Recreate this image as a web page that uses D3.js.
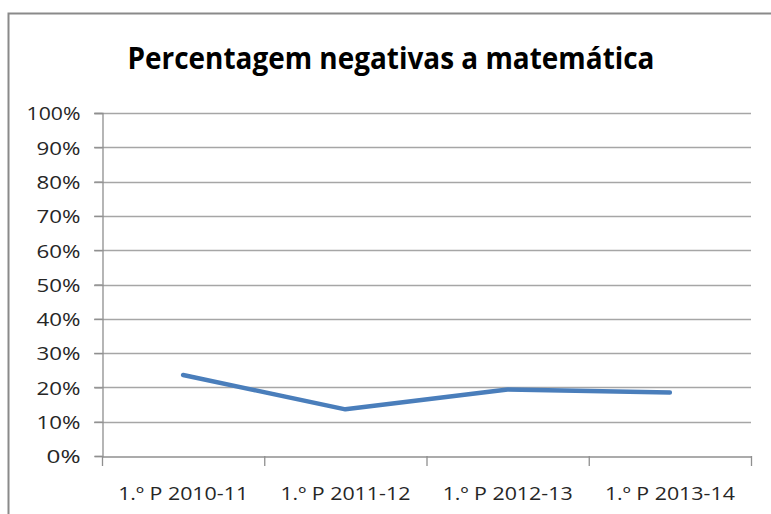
<!DOCTYPE html>
<html><head><meta charset="utf-8">
<script src="https://cdn.jsdelivr.net/npm/d3@7"></script>
<style>
body{margin:0;background:#fff;}
</style></head>
<body>
<svg id="c" width="771" height="514"></svg>
<script>
const categories = ["1.º P 2010-11","1.º P 2011-12","1.º P 2012-13","1.º P 2013-14"];
const values = [0.236, 0.136, 0.194, 0.185];
const yTicks = [0,0.1,0.2,0.3,0.4,0.5,0.6,0.7,0.8,0.9,1.0];
const title = "Percentagem negativas a matemática";

const svg = d3.select("#c");
const W = 771, H = 514;

svg.append("rect").attr("x",8.5).attr("y",13.5).attr("width",W+10).attr("height",H+10)
  .attr("fill","#fff").attr("stroke","#8a8a8a").attr("stroke-width",2);

const x = d3.scaleBand().domain(categories).range([102,751]);
const y = d3.scaleLinear().domain([0,1]).range([456,113]);

// gridlines
svg.append("g").selectAll("line").data(yTicks.filter(d=>d>0)).join("line")
  .attr("x1",94).attr("x2",751).attr("y1",d=>Math.round(y(d))+0.5).attr("y2",d=>Math.round(y(d))+0.5)
  .attr("stroke","#a6a6a6").attr("stroke-width",1.3);

// y axis
const ya = svg.append("g").attr("transform","translate(102.5,0)")
  .call(d3.axisLeft(y).tickValues(yTicks).tickFormat(d3.format(".0%")).tickSize(8).tickPadding(14));
ya.select(".domain").attr("stroke","#8f8f8f").attr("stroke-width",1.3);
ya.selectAll(".tick line").attr("stroke","#8f8f8f").attr("stroke-width",1.3);
ya.selectAll(".tick text").style("font-size","19px").style("font-family","'Open Sans'").attr("fill","#262626")
  .attr("dy","0.36em")
  .attr("textLength",d=>d===1?54:d===0?34:44).attr("lengthAdjust","spacingAndGlyphs");

// x axis
const xa = svg.append("g").attr("transform","translate(0,456.5)")
  .call(d3.axisBottom(x).tickSize(0).tickPadding(30));
xa.select(".domain").attr("stroke","#8f8f8f").attr("stroke-width",1.3);
xa.selectAll(".tick text").style("font-size","19px").style("font-family","'Open Sans'").attr("fill","#262626")
  .attr("textLength",130).attr("lengthAdjust","spacingAndGlyphs");
// x tick marks at band boundaries
svg.append("g").selectAll("line").data(d3.range(categories.length+1)).join("line")
  .attr("x1",i=>x(categories[0])+i*x.step()+0.5).attr("x2",i=>x(categories[0])+i*x.step()+0.5)
  .attr("y1",456).attr("y2",466).attr("stroke","#8f8f8f").attr("stroke-width",1.3);

// line
const line = d3.line().x((d,i)=>x(categories[i])+x.bandwidth()/2).y(d=>y(d));
svg.append("path").datum(values).attr("d",line).attr("fill","none")
  .attr("stroke","#4a7ebb").attr("stroke-width",4.5).attr("stroke-linecap","round").attr("stroke-linejoin","round");

svg.append("text").attr("x",391).attr("y",69).attr("text-anchor","middle")
  .style("font-size","31px").style("font-family","'Open Sans'").attr("font-weight","bold").attr("fill","#000")
  .attr("textLength",527).attr("lengthAdjust","spacingAndGlyphs").text(title);
</script>
</body></html>
